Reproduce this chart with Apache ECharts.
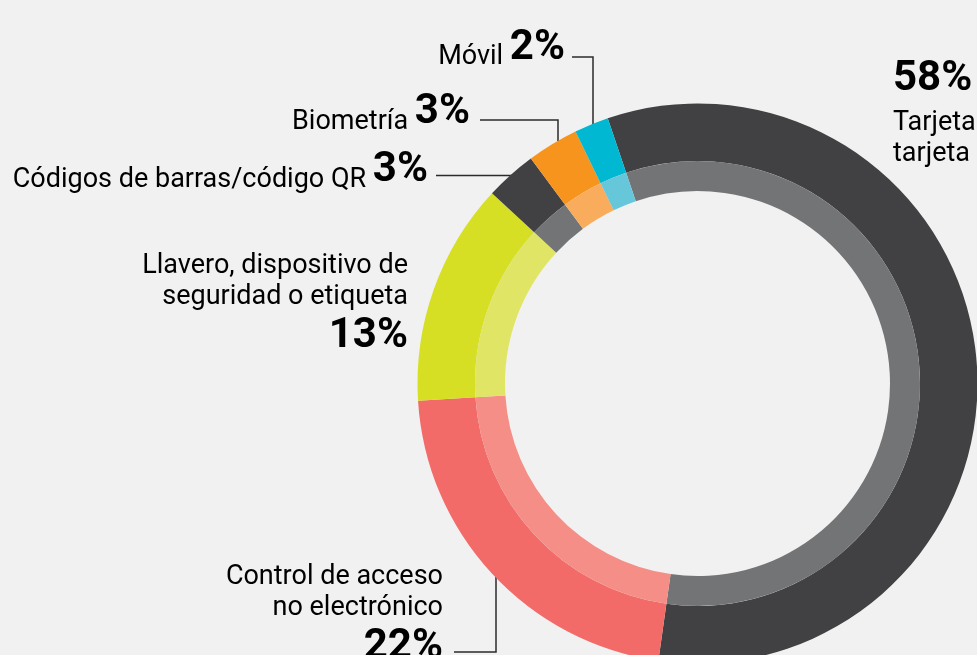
<!DOCTYPE html>
<html><head><meta charset="utf-8">
<script src="https://cdn.jsdelivr.net/npm/echarts@6/dist/echarts.min.js"></script>
<style>html,body{margin:0;padding:0;background:#f1f1f1;overflow:hidden}#chart{width:977px;height:655px}</style>
</head><body><div id="chart"></div>
<script>
// ---- data ----
const categories = ['Tarjeta', 'Control de acceso no electrónico', 'Llavero, dispositivo de seguridad o etiqueta', 'Códigos de barras/código QR', 'Biometría', 'Móvil'];
const values = [58, 22, 13, 3, 3, 2];
const labelLines = [['Tarjeta', 'tarjeta'], ['Control de acceso', 'no electrónico'], ['Llavero, dispositivo de', 'seguridad o etiqueta'], ['Códigos de barras/código QR'], ['Biometría'], ['Móvil']];

// ---- styles / layout ----
const outerColors = ['#414143', '#f26b68', '#d6df23', '#414143', '#f7941e', '#00b8d1'];
const innerColors = ['#737476', '#f58e86', '#e0e566', '#737476', '#f9ac5b', '#66c6da'];
const CENTER = [697.5, 383.5];
const R_OUT = 280, R_MID = 222.5, R_IN = 192.5;
const START_ANGLE = 108.7;
const TEXT = '#343436', FONT = 'Roboto';
// label placement: [x, yTop, kind]
const labelPos = [
  [893, 50, 'top'],
  [443, 562, 'below'],
  [408, 251, 'below'],
  [428, 147.5, 'inline'],
  [470, 89.5, 'inline'],
  [565, 25.2, 'inline']
];
const leaders = [
  null,
  [[454, 652], [496, 652], [496, 557]],
  null,
  [[436, 175.5], [528, 175.5]],
  [[480, 120], [558, 120], [558, 141]],
  [[572, 57], [593, 57], [593, 127]]
];

function ring(colors, radius) {
  return {
    type: 'pie', center: CENTER, radius: radius, startAngle: START_ANGLE, clockwise: true,
    silent: true, avoidLabelOverlap: false, minAngle: 0,
    label: { show: false }, labelLine: { show: false },
    emphasis: { disabled: true },
    itemStyle: { borderWidth: 0 },
    data: values.map((v, i) => ({ name: categories[i], value: v, itemStyle: { color: colors[i] } }))
  };
}

const rich = {
  n:  { fontFamily: FONT, fontSize: 27, lineHeight: 31, color: TEXT, align: 'right' },
  nl: { fontFamily: FONT, fontSize: 27, lineHeight: 31, color: TEXT, align: 'left' },
  ni: { fontFamily: FONT, fontSize: 27, lineHeight: 35, verticalAlign: 'bottom', color: TEXT },
  b:  { fontFamily: FONT, fontSize: 42, fontWeight: 'bold', lineHeight: 46, color: TEXT, align: 'right' },
  bt: { fontFamily: FONT, fontSize: 42, fontWeight: 'bold', lineHeight: 58, color: TEXT, align: 'left' }
};

const graphics = [];
values.forEach((v, i) => {
  const [x, y, kind] = labelPos[i];
  let text;
  if (kind === 'inline') text = '{ni|' + labelLines[i].join(' ') + ' }{b|' + v + '%}';
  else if (kind === 'below') text = labelLines[i].map(l => '{n|' + l + '}').join('\n') + '\n{b|' + v + '%}';
  else text = '{bt|' + v + '%}\n' + labelLines[i].map(l => '{nl|' + l + '}').join('\n');
  graphics.push({
    type: 'text', x: x, y: y, silent: true,
    style: { text: text, align: kind === 'top' ? 'left' : 'right', verticalAlign: 'top', rich: rich }
  });
  if (leaders[i]) graphics.push({
    type: 'polyline', silent: true, shape: { points: leaders[i] },
    style: { stroke: '#2b2b2d', lineWidth: 1.5, fill: null }
  });
});

const chart = echarts.init(document.getElementById('chart'), null, { renderer: 'canvas' });
chart.setOption({
  backgroundColor: '#f1f1f1',
  animation: false,
  series: [ring(outerColors, [R_MID, R_OUT]), ring(innerColors, [R_IN, R_MID])],
  graphic: graphics
});
</script></body></html>
